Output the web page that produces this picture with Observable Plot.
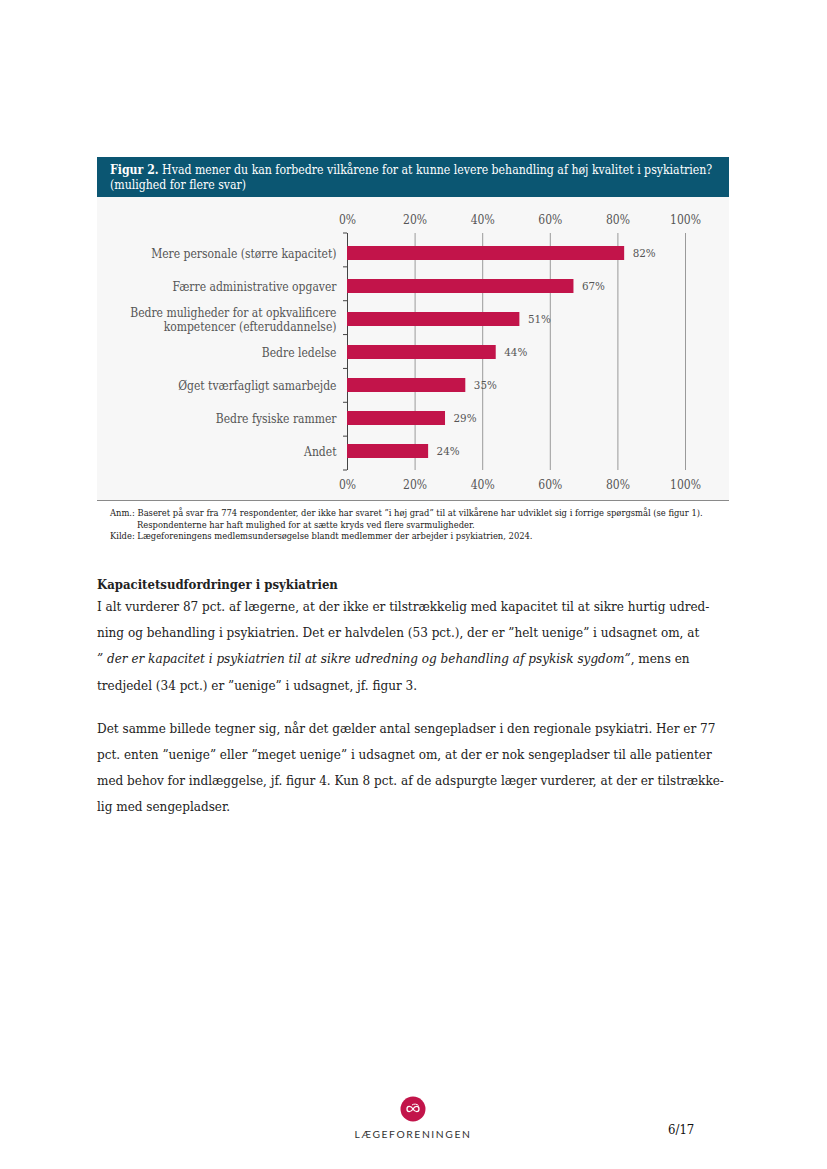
<!DOCTYPE html>
<html>
<head>
<meta charset="utf-8">
<script src="https://cdn.jsdelivr.net/npm/d3@7"></script>
<script src="https://cdn.jsdelivr.net/npm/@observablehq/plot@0.6"></script>
<style>
  html, body { margin: 0; padding: 0; background: #fff; }
  body { width: 827px; height: 1169px; position: relative; font-family: "DejaVu Serif Condensed", "DejaVu Serif", serif; color: #222; }
  #figure { position: absolute; left: 97px; top: 157px; width: 632px; }
  #title { background: #0b5672; color: #fff; font-size: 12.2px; line-height: 15px; padding: 6px 12px 4px 13px; height: 30px; box-sizing: content-box; white-space: nowrap; }
  #title b { font-weight: bold; }
  #chart svg { display: block; }
  #rule { border-top: 1px solid #8a8a8a; width: 632px; }
  #notes { font-size: 9.3px; line-height: 11.5px; color: #222; padding: 6px 0 0 13px; white-space: nowrap; }
  #notes .ind { padding-left: 27px; }
  #text { position: absolute; left: 97px; top: 576px; width: 640px; }
  #text h3 { font-size: 13px; font-weight: bold; margin: 0; line-height: 18px; }
  #text p { font-size: 13.4px; line-height: 26.2px; margin: 0; white-space: nowrap; }
  #text p.second { margin-top: 17px; }
  #footer-logo { position: absolute; left: 400px; top: 1096px; }
  #footer-name { position: absolute; left: 313px; width: 200px; text-align: center; top: 1128px; font-family: "Lato", sans-serif; font-size: 10.3px; letter-spacing: 1.6px; color: #333; }
  #page { position: absolute; left: 668px; top: 1122px; font-size: 13px; color: #111; }
</style>
</head>
<body>
<div id="figure">
  <div id="title"><b>Figur 2.</b> Hvad mener du kan forbedre vilkårene for at kunne levere behandling af høj kvalitet i psykiatrien?<br>(mulighed for flere svar)</div>
  <div id="chart"></div>
  <div id="rule"></div>
  <div id="notes">
    <div>Anm.: Baseret på svar fra 774 respondenter, der ikke har svaret ”i høj grad” til at vilkårene har udviklet sig i forrige spørgsmål (se figur 1).</div>
    <div class="ind">Respondenterne har haft mulighed for at sætte kryds ved flere svarmuligheder.</div>
    <div>Kilde: Lægeforeningens medlemsundersøgelse blandt medlemmer der arbejder i psykiatrien, 2024.</div>
  </div>
</div>

<div id="text">
  <h3>Kapacitetsudfordringer i psykiatrien</h3>
  <p>I alt vurderer 87 pct. af lægerne, at der ikke er tilstrækkelig med kapacitet til at sikre hurtig udred-<br>
  ning og behandling i psykiatrien. Det er halvdelen (53 pct.), der er ”helt uenige” i udsagnet om, at<br>
  <i>” der er kapacitet i psykiatrien til at sikre udredning og behandling af psykisk sygdom”</i>, mens en<br>
  tredjedel (34 pct.) er ”uenige” i udsagnet, jf. figur 3.</p>
  <p class="second">Det samme billede tegner sig, når det gælder antal sengepladser i den regionale psykiatri. Her er 77<br>
  pct. enten ”uenige” eller ”meget uenige” i udsagnet om, at der er nok sengepladser til alle patienter<br>
  med behov for indlæggelse, jf. figur 4. Kun 8 pct. af de adspurgte læger vurderer, at der er tilstrække-<br>
  lig med sengepladser.</p>
</div>

<svg id="footer-logo" width="26" height="26" viewBox="0 0 26 26">
  <circle cx="13" cy="13" r="12.5" fill="#c2144a"/>
  <path d="M7 13 C7 9.5 11 9.5 13 13 C15 16.5 19 16.5 19 13 C19 9.5 15 9.5 13 13 C11 16.5 7 16.5 7 13 Z" fill="none" stroke="#fff" stroke-width="1.3"/>
  <path d="M12 9 C14 7.5 17 8 18.5 9.5" fill="none" stroke="#fff" stroke-width="1"/>
</svg>
<div id="footer-name">LÆGEFORENINGEN</div>
<div id="page">6/17</div>

<script>
const categories = [
  "Mere personale (større kapacitet)",
  "Færre administrative opgaver",
  "Bedre muligheder for at opkvalificere\nkompetencer (efteruddannelse)",
  "Bedre ledelse",
  "Øget tværfagligt samarbejde",
  "Bedre fysiske rammer",
  "Andet"
];
const values = [82, 67, 51, 44, 35, 29, 24];
const xTicks = [0, 20, 40, 60, 80, 100];

const data = categories.map((c, i) => ({label: c, value: values[i]}));

const W = 632, H = 303, MT = 36, MB = 30, ML = 250, MR = 44;

function bandTicks(index, scales, values, dimensions) {
  const g = d3.create("svg:g");
  const {marginTop, marginBottom, height} = dimensions;
  const n = categories.length;
  const step = (height - marginTop - marginBottom) / n;
  const x0 = scales.x(0);
  for (let i = 0; i <= n; i++) {
    const y = marginTop + i * step;
    g.append("line").attr("x1", x0 - 4).attr("x2", x0).attr("y1", y).attr("y2", y)
      .attr("stroke", "#444").attr("stroke-width", 1);
  }
  return g.node();
}

const chart = Plot.plot({
  width: W, height: H,
  marginLeft: ML, marginRight: MR, marginTop: MT, marginBottom: MB,
  style: {background: "#f7f7f7", fontFamily: "DejaVu Serif Condensed, DejaVu Serif, serif", fontSize: "12px", color: "#555", overflow: "visible"},
  x: {domain: [0, 100], label: null},
  y: {domain: categories, paddingInner: 0.58, paddingOuter: 0.29, label: null},
  marks: [
    Plot.gridX(xTicks.filter(d => d > 0), {stroke: "#9a9a9a", strokeOpacity: 1}),
    Plot.ruleX([0], {stroke: "#444"}),
    bandTicks,
    Plot.barX(data, {x: "value", y: "label", fill: "#c2144a"}),
    Plot.text(data, {x: "value", y: "label", text: d => d.value + "%", dx: 8, textAnchor: "start", fill: "#555", fontSize: 11.5}),
    Plot.axisX({anchor: "top", ticks: xTicks, tickSize: 0, tickPadding: 10, tickFormat: d => d + "%", label: null, fill: "#555"}),
    Plot.axisX({anchor: "bottom", ticks: xTicks, tickSize: 0, tickPadding: 10, tickFormat: d => d + "%", label: null, fill: "#555"}),
    Plot.axisY({tickSize: 0, tickPadding: 11, label: null, fill: "#555", lineHeight: 1.15})
  ]
});
document.getElementById("chart").appendChild(chart);
</script>
</body>
</html>
